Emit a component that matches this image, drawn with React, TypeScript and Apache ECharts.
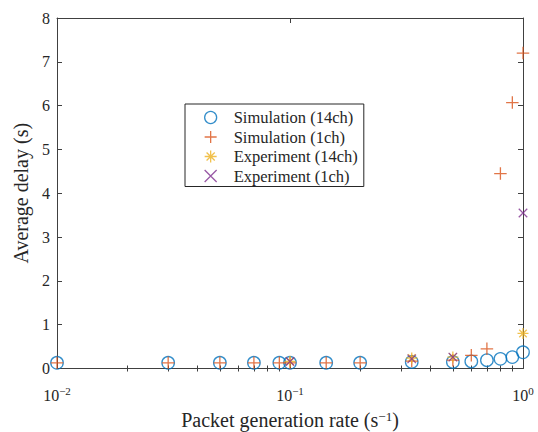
import React, { useEffect, useRef } from "react";
import * as echarts from "echarts";

// ---- data ----
const rates = [0.01, 0.03, 0.05, 0.07, 0.09, 0.1, 0.143, 0.2, 0.333, 0.5, 0.6, 0.7, 0.8, 0.9, 1.0];
const sim14ch = [0.13, 0.13, 0.13, 0.13, 0.13, 0.13, 0.13, 0.13, 0.15, 0.15, 0.16, 0.19, 0.22, 0.26, 0.37];
const sim1ch = [0.13, 0.13, 0.13, 0.13, 0.13, 0.13, 0.13, 0.13, 0.17, 0.19, 0.3, 0.45, 4.45, 6.07, 7.2];
const expRates = [0.1, 0.333, 0.5, 1.0];
const exp14ch = [0.16, 0.24, 0.26, 0.8];
const exp1ch = [0.16, 0.22, 0.26, 3.55];

const seriesNames = ["Simulation (14ch)", "Simulation (1ch)", "Experiment (14ch)", "Experiment (1ch)"];
const minorTickValues = [0.02, 0.03, 0.04, 0.05, 0.06, 0.07, 0.08, 0.09, 0.2, 0.3, 0.4, 0.5, 0.6, 0.7, 0.8, 0.9];
const xTitle = ["Packet generation rate (s", "−1", ")"];
const yTitle = "Average delay (s)";

const FONT = "Liberation Serif";
const AXIS_COLOR = "#404040";
const TEXT_COLOR = "#262626";

const PLUS = "path://M0,5L10,5M5,0L5,10";
const CROSS = "path://M0,0L10,10M0,10L10,0";
const STAR = "path://M0,5L10,5M5,0L5,10M1.6,1.6L8.4,8.4M1.6,8.4L8.4,1.6";

const zip = (xs: number[], ys: number[]) => xs.map((x, i) => [x, ys[i]]);

export default function App() {
  const ref = useRef<HTMLDivElement>(null);
  useEffect(() => {
    if (!ref.current) return;
    const chart = echarts.init(ref.current, null, { renderer: "svg" });
    const lineStyle = { color: AXIS_COLOR, width: 1 };
    const supFmt = (v: number) => {
      const e = Math.round(Math.log10(v));
      const s = e < 0 ? "−" + String(-e) : String(e);
      return `{b|10}{s|${s}}`;
    };
    const minorLog = minorTickValues.map((v) => Math.log10(v));
    const baseLog = {
      type: "log" as const,
      logBase: 10,
      min: 0.01,
      max: 1,
      splitLine: { show: false },
      axisLine: { show: true, onZero: false, lineStyle },
    };
    const minorAxis = {
      type: "value" as const,
      min: -2,
      max: 0,
      axisLine: { show: false },
      splitLine: { show: false },
      axisLabel: { show: false },
      axisTick: { show: true, inside: true, length: 3, customValues: minorLog, lineStyle },
    };
    const option: any = {
      animation: false,
      backgroundColor: "#ffffff",
      textStyle: { fontFamily: FONT, color: TEXT_COLOR },
      grid: { left: 57, right: 15, top: 18, bottom: 63.5, containLabel: false, outerBoundsMode: "none" },
      legend: {
        orient: "vertical",
        left: 185,
        top: 104,
        data: seriesNames,
        itemWidth: 36,
        itemHeight: 12,
        itemGap: 2.5,
        padding: [5, 6, 2, 19],
        borderColor: "#262626",
        borderWidth: 1,
        backgroundColor: "#ffffff",
        selectedMode: false,
        itemStyle: { borderWidth: 1.3 },
        textStyle: { fontFamily: FONT, fontSize: 16.5, color: TEXT_COLOR, lineHeight: 17 },
      },
      xAxis: [
        {
          ...baseLog,
          position: "bottom",
          axisTick: { show: true, inside: true, length: 5, lineStyle },
          axisLabel: {
            show: true,
            margin: 17,
            fontFamily: FONT,
            formatter: supFmt,
            rich: {
              b: { fontFamily: FONT, fontSize: 16, color: TEXT_COLOR, lineHeight: 18, verticalAlign: "bottom" },
              s: { fontFamily: FONT, fontSize: 11, color: TEXT_COLOR, lineHeight: 12, verticalAlign: "top" },
            },
          },
          name: `{n|${xTitle[0]}}{s|${xTitle[1]}}{n|${xTitle[2]}}`,
          nameLocation: "middle",
          nameGap: 41,
          nameTextStyle: {
            fontFamily: FONT,
            rich: {
              n: { fontFamily: FONT, fontSize: 20, color: TEXT_COLOR, lineHeight: 20, verticalAlign: "bottom" },
              s: { fontFamily: FONT, fontSize: 13, color: TEXT_COLOR, lineHeight: 13, verticalAlign: "top" },
            },
          },
        },
        {
          ...baseLog,
          position: "top",
          axisTick: { show: true, inside: true, length: 5, lineStyle },
          axisLabel: { show: false },
        },
        { ...minorAxis, position: "bottom" },
        { ...minorAxis, position: "top" },
      ],
      yAxis: [
        {
          type: "value",
          min: 0,
          max: 8,
          interval: 1,
          position: "left",
          splitLine: { show: false },
          axisLine: { show: true, onZero: false, lineStyle },
          axisTick: { show: true, inside: true, length: 5, lineStyle },
          axisLabel: { fontFamily: FONT, fontSize: 16, color: TEXT_COLOR, margin: 7 },
          name: yTitle,
          nameLocation: "middle",
          nameGap: 21,
          nameTextStyle: { fontFamily: FONT, fontSize: 20, color: TEXT_COLOR },
        },
        {
          type: "value",
          min: 0,
          max: 8,
          interval: 1,
          position: "right",
          splitLine: { show: false },
          axisLine: { show: true, onZero: false, lineStyle },
          axisTick: { show: true, inside: true, length: 5, lineStyle },
          axisLabel: { show: false },
        },
      ],
      series: [
        {
          name: seriesNames[0],
          type: "scatter",
          symbol: "circle",
          symbolSize: 12.5,
          data: zip(rates, sim14ch),
          itemStyle: { color: "transparent", borderColor: "#0072BD", borderWidth: 1.3 },
        },
        {
          name: seriesNames[1],
          type: "scatter",
          symbol: PLUS,
          symbolSize: 12.5,
          data: zip(rates, sim1ch),
          itemStyle: { color: "transparent", borderColor: "#D95319", borderWidth: 1.3 },
        },
        {
          name: seriesNames[2],
          type: "scatter",
          symbol: STAR,
          symbolSize: 11,
          data: zip(expRates, exp14ch),
          itemStyle: { color: "transparent", borderColor: "#EDB120", borderWidth: 1.3 },
        },
        {
          name: seriesNames[3],
          type: "scatter",
          symbol: CROSS,
          symbolSize: 8.5,
          data: zip(expRates, exp1ch),
          itemStyle: { color: "transparent", borderColor: "#7E2F8E", borderWidth: 1.3 },
        },
      ],
    };
    chart.setOption(option);
    return () => chart.dispose();
  }, []);
  return <div ref={ref} style={{ width: 538, height: 432, position: "absolute", left: 0, top: 0 }} />;
}
